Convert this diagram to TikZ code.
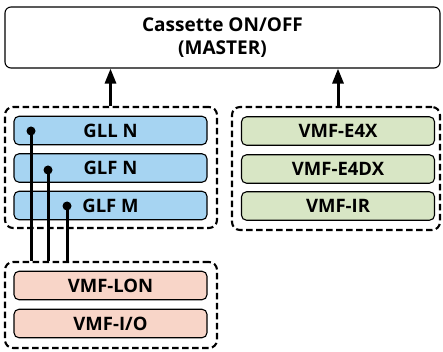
\documentclass[tikz,border=0pt]{standalone}
\usepackage{fontspec}
\setmainfont{Open Sans}
\usetikzlibrary{arrows.meta,positioning}

\definecolor{gllblue}{RGB}{166,212,242}
\definecolor{vmfgreen}{RGB}{216,230,197}
\definecolor{lonpink}{RGB}{248,213,200}

\tikzset{
    unit/.style={draw, rounded corners=5pt, line width=1.1pt, minimum width=193pt, minimum height=28.5pt, font=\fontsize{18.5}{20}\selectfont\bfseries},
    group/.style={draw, dashed, dash pattern=on 6.5pt off 3.5pt, rounded corners=8pt, line width=2.1pt},
    dot/.style={circle, fill, inner sep=0pt, minimum size=9pt},
    wire/.style={line width=3pt}
}

\begin{document}
\begin{tikzpicture}[x=1pt, y=-1pt]
        \useasboundingbox (0, 0) rectangle (443, 352);

        \node[draw, rounded corners=6pt, line width=1.1pt, minimum width=435pt, minimum height=61pt, align=center, font=\fontsize{19}{23}\selectfont\bfseries] at (222.5, 37.5)(master){Cassette ON/OFF\\(MASTER)};

        % left group
        \node[group, minimum width=212pt, minimum height=121pt] at (111, 167.5)(leftgrp){};
        \node[unit, fill=gllblue] at (110.5, 130.5)(glln){GLL N};
        \node[unit, fill=gllblue] at (110.5, 168)(glfn){GLF N};
        \node[unit, fill=gllblue] at (110.5, 205.5)(glfm){GLF M};

        % right group
        \node[group, minimum width=208pt, minimum height=123pt] at (336, 168.5)(rightgrp){};
        \node[unit, fill=vmfgreen] at (338, 131)(efour){VMF-E4X};
        \node[unit, fill=vmfgreen] at (338, 169)(efourdx){VMF-E4DX};
        \node[unit, fill=vmfgreen] at (338, 206)(ir){VMF-IR};

        % bottom group
        \node[group, minimum width=212pt, minimum height=86pt] at (111, 305)(lowgrp){};
        \node[unit, fill=lonpink] at (110.5, 285.5)(lon){VMF-LON};
        \node[unit, fill=lonpink] at (110.5, 323.5)(io){VMF-I/O};

        \node[dot] at (31, 131)(d1){};
        \node[dot] at (48, 170)(d2){};
        \node[dot] at (67, 206)(d3){};

        \draw[wire] (d1.center) -- (d1 |- lowgrp.north);
        \draw[wire] (d2.center) -- (d2 |- lowgrp.north);
        \draw[wire] (d3.center) -- (d3 |- lowgrp.north);

        \draw[wire, -{Triangle[length=15pt, width=11pt]}] (leftgrp.north -| glln) -- (master.south -| glln);
        \draw[wire, -{Triangle[length=15pt, width=11pt]}] (rightgrp.north -| efour) -- (master.south -| efour);
    \end{tikzpicture}
\end{document}
